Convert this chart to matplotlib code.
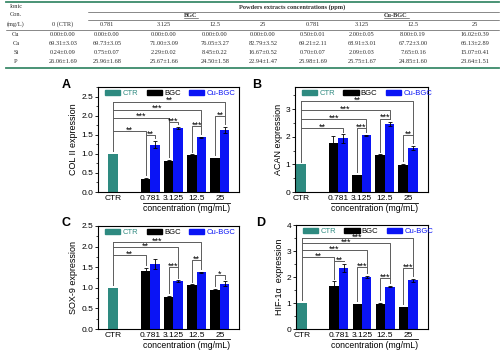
import numpy as np
import matplotlib.pyplot as plt
from matplotlib.patches import Patch
from matplotlib.ticker import MultipleLocator, FormatStrFormatter
import matplotlib.transforms as mtransforms

plt.rcParams['font.family'] = ['Liberation Sans', 'DejaVu Sans']

# ---- table data ----
ion_names = ["Cu", "Ca", "Si", "P"]
conc_labels = ["0.781", "3.125", "12.5", "25", "0.781", "3.125", "12.5", "25"]
ion_cu = ["0.00±0.00", "0.00±0.00", "0.00±0.00", "0.00±0.00", "0.00±0.00",
          "0.50±0.01", "2.00±0.05", "8.00±0.19", "16.02±0.39"]
ion_ca = ["69.31±3.03", "69.73±3.05", "71.00±3.09", "76.05±3.27", "82.79±3.52",
          "69.21±2.11", "68.91±3.01", "67.72±3.00", "66.13±2.89"]
ion_si = ["0.24±0.09", "0.75±0.07", "2.29±0.02", "8.45±0.22", "16.67±0.52",
          "0.70±0.07", "2.09±0.03", "7.65±0.16", "15.07±0.41"]
ion_p = ["26.06±1.69", "25.96±1.68", "25.67±1.66", "24.50±1.58", "22.94±1.47",
         "25.98±1.69", "25.75±1.67", "24.85±1.60", "23.64±1.51"]

# ---- bar data ----
groups = ["0.781", "3.125", "12.5", "25"]
ctr_val = 1.0

col2_bgc = [0.33, 0.82, 0.96, 0.88]
col2_bgc_err = [0.04, 0.02, 0.03, 0.02]
col2_cu = [1.24, 1.68, 1.43, 1.63]
col2_cu_err = [0.10, 0.03, 0.02, 0.08]

acan_bgc = [1.76, 0.60, 1.34, 0.98]
acan_bgc_err = [0.25, 0.02, 0.03, 0.03]
acan_cu = [1.94, 2.05, 2.47, 1.60]
acan_cu_err = [0.15, 0.03, 0.07, 0.08]

sox9_bgc = [1.41, 0.77, 1.06, 0.95]
sox9_bgc_err = [0.07, 0.03, 0.03, 0.02]
sox9_cu = [1.58, 1.16, 1.38, 1.10]
sox9_cu_err = [0.12, 0.02, 0.01, 0.06]

hif_bgc = [1.65, 0.96, 0.96, 0.83]
hif_bgc_err = [0.18, 0.02, 0.05, 0.03]
hif_cu = [2.36, 2.01, 1.63, 1.87]
hif_cu_err = [0.15, 0.03, 0.03, 0.05]

# significance marks
col2_outer = ["**", "***", "***", "**"]
col2_inner = ["**", "***", "***", "**"]
acan_outer = ["**", "***", "***", "**"]
acan_inner = [None, "***", "***", "**"]
sox9_outer = ["**", "**", "***", None]
sox9_inner = [None, "***", "**", "*"]
hif_outer = ["**", "***", "***", "***"]
hif_inner = ["**", "***", "***", "***"]

# bracket placement (y levels in data units, end side of outer bracket)
col2_outer_lv = [1.59, 1.95, 2.16, 2.37]
col2_inner_lv = [1.50, 1.83, 1.73, 1.98]
col2_end = ['b', 'b', 'c', 'c']
acan_outer_lv = [2.30, 2.64, 2.96, 3.30]
acan_inner_lv = [None, 2.30, 2.66, 2.06]
acan_end = ['c', 'c', 'c', 'c']
sox9_outer_lv = [1.79, 1.98, 2.10, None]
sox9_inner_lv = [None, 1.50, 1.68, 1.30]
sox9_end = ['b', 'c', 'c', 'c']
hif_outer_lv = [2.76, 3.03, 3.30, 3.49]
hif_inner_lv = [2.62, 2.38, 1.95, 2.33]
hif_end = ['b', 'c', 'c', 'c']

c_ctr = '#2e8a80'
c_bgc = '#000000'
c_cu = '#0a14f5'
lc = '#5c5c5c'
W = 0.41
gx = 1.6 + np.arange(len(groups))


def stars(ax, x, y, s):
    ax.annotate(s, (x, y), xytext=(0, -1.2), textcoords='offset points',
                ha='center', va='baseline', fontsize=6.5)


def draw_panel(ax, bgc, bgc_err, cu, cu_err, ylabel, ytop, ystep, fmt,
               outer, inner, outer_lv, inner_lv, ends, xlim):
    xb = gx - W / 2
    xc = gx + W / 2
    ax.bar([0], [ctr_val], W, color=c_ctr, zorder=2)
    ax.bar(xb, bgc, W, color=c_bgc, zorder=2)
    ax.bar(xc, cu, W, color=c_cu, zorder=2)
    ax.errorbar(xb, bgc, yerr=bgc_err, fmt='none', ecolor='k', elinewidth=0.6,
                capsize=1.5, capthick=0.6, zorder=3)
    ax.errorbar(xc, cu, yerr=cu_err, fmt='none', ecolor='k', elinewidth=0.6,
                capsize=1.5, capthick=0.6, zorder=3)

    gap = 0.025 * ytop
    btop = np.array(bgc) + np.array(bgc_err) + gap
    ctop = np.array(cu) + np.array(cu_err) + gap
    top_lv = max(v for v in outer_lv if v is not None)
    ax.plot([0, 0], [ctr_val + gap, top_lv], color=lc, lw=0.7)
    for i in range(len(groups)):
        il = inner_lv[i]
        if il is not None:
            ax.plot([xb[i], xb[i], xc[i], xc[i]], [btop[i], il, il, ctop[i]],
                    color=lc, lw=0.7)
            stars(ax, gx[i], il, inner[i])
        ol = outer_lv[i]
        if ol is not None:
            xe = xb[i] if ends[i] == 'b' else xc[i]
            if il is not None:
                tgt = il
            else:
                tgt = btop[i] if ends[i] == 'b' else ctop[i]
            ax.plot([0, xe, xe], [ol, ol, tgt], color=lc, lw=0.7)
            stars(ax, xe / 2, ol, outer[i])

    ax.set_xlim(*xlim)
    ax.set_ylim(0, ytop)
    ax.yaxis.set_major_locator(MultipleLocator(ystep))
    ax.yaxis.set_minor_locator(MultipleLocator(ystep / 2))
    ax.yaxis.set_major_formatter(FormatStrFormatter(fmt))
    ax.tick_params(axis='y', labelsize=6, length=2.5, width=0.6, pad=1)
    ax.tick_params(axis='y', which='minor', length=1.5, width=0.5)
    ax.set_xticks([0] + list(gx))
    ax.set_xticklabels(["CTR"] + groups)
    ax.tick_params(axis='x', labelsize=6, length=0, pad=2)
    for s in ax.spines.values():
        s.set_linewidth(0.8)
    ax.set_ylabel(ylabel, fontsize=6.5, labelpad=2)

    trans = mtransforms.blended_transform_factory(ax.transData, ax.transAxes)
    ax.plot([gx[0] - 0.3, gx[-1] + 0.43], [-0.1, -0.1], transform=trans,
            color='k', lw=0.6, clip_on=False)
    ax.text((gx[0] + gx[-1]) / 2 + 0.05, -0.115, "concentration (mg/mL)",
            transform=trans, ha='center', va='top', fontsize=6.2)

    handles = [Patch(color=c_ctr), Patch(color=c_bgc), Patch(color=c_cu)]
    leg = ax.legend(handles, ["CTR", "BGC", "Cu-BGC"], ncol=3, loc='upper left',
                    bbox_to_anchor=(0.03, 1.0), frameon=False, fontsize=5.5,
                    handlelength=2.0, handleheight=0.65, columnspacing=1.1,
                    handletextpad=0.3, borderaxespad=0.15, borderpad=0.2)
    for t, c in zip(leg.get_texts(), [c_ctr, c_bgc, c_cu]):
        t.set_color(c)


fig = plt.figure(figsize=(5.04, 3.53), dpi=100)
FW, FH = 504.0, 353.0


def ax_px(left, top, right, bottom):
    return fig.add_axes([left / FW, 1 - bottom / FH, (right - left) / FW,
                         (bottom - top) / FH])


axA = ax_px(98, 87, 239, 192)
axB = ax_px(295, 87, 428, 192)
axC = ax_px(98, 226, 239, 329)
axD = ax_px(296, 225, 428, 329)

xl_left = (-0.65, 5.42)
xl_right = (-0.26, 5.46)
draw_panel(axA, col2_bgc, col2_bgc_err, col2_cu, col2_cu_err, "COL II expression",
           2.75, 0.5, '%.1f', col2_outer, col2_inner, col2_outer_lv, col2_inner_lv,
           col2_end, xl_left)
draw_panel(axB, acan_bgc, acan_bgc_err, acan_cu, acan_cu_err, "ACAN expression",
           3.8, 1, '%d', acan_outer, acan_inner, acan_outer_lv, acan_inner_lv,
           acan_end, xl_right)
draw_panel(axC, sox9_bgc, sox9_bgc_err, sox9_cu, sox9_cu_err, "SOX-9 expression",
           2.5, 0.5, '%.1f', sox9_outer, sox9_inner, sox9_outer_lv, sox9_inner_lv,
           sox9_end, xl_left)
draw_panel(axD, hif_bgc, hif_bgc_err, hif_cu, hif_cu_err, "HIF-1α  expression",
           4, 1, '%d', hif_outer, hif_inner, hif_outer_lv, hif_inner_lv,
           hif_end, xl_right)

for lab, x, y in [("A", 66, 85), ("B", 257, 85), ("C", 66, 223), ("D", 261, 223)]:
    fig.text(x / FW, 1 - y / FH, lab, fontsize=9, fontweight='bold',
             ha='center', va='center')

# ---- table on top ----
tax = fig.add_axes([0, 0, 1, 1], zorder=-1)
tax.set_xlim(0, FW)
tax.set_ylim(FH, 0)
tax.axis('off')
tc = '#2f2f2f'
gc = '#3b8a6a'
tfont = dict(family=['Liberation Serif', 'DejaVu Serif'], fontsize=4.6, color=tc,
             ha='center', va='center')

tax.plot([6, 499], [2, 2], color=gc, lw=1.3)
tax.plot([6, 499], [68, 68], color=gc, lw=1.3)
tax.plot([88, 499], [11.7, 11.7], color=tc, lw=0.4)
tax.plot([88, 499], [20.3, 20.3], color=tc, lw=0.4)
tax.plot([6, 499], [30, 30], color=tc, lw=0.4)
tax.plot([184, 198], [18, 18], color=tc, lw=0.4)
tax.plot([384, 409], [18, 18], color=tc, lw=0.4)

tax.text(16, 6, "Ionic", **tfont)
tax.text(16, 15, "Con.", **tfont)
tax.text(16, 24, "(mg/L)", **tfont)
tax.text(63, 24, "0 (CTR)", **tfont)
tax.text(292, 7, "Powders extracts concentrations (ppm)", fontweight='bold', **tfont)
tax.text(191, 15.5, "BGC", fontweight='bold', **tfont)
tax.text(396, 15.5, "Cu-BGC", fontweight='bold', **tfont)

col_x = [63, 107, 164, 215, 263, 313, 362, 413, 475]
for x, s in zip(col_x[1:], conc_labels):
    tax.text(x, 25, s, **tfont)
rows = [ion_cu, ion_ca, ion_si, ion_p]
row_y = [34.3, 43.3, 52.3, 61.5]
for name, vals, y in zip(ion_names, rows, row_y):
    tax.text(16, y, name, **tfont)
    for x, v in zip(col_x, vals):
        tax.text(x, y, v, **tfont)

fig.savefig("out.png", dpi=100)
